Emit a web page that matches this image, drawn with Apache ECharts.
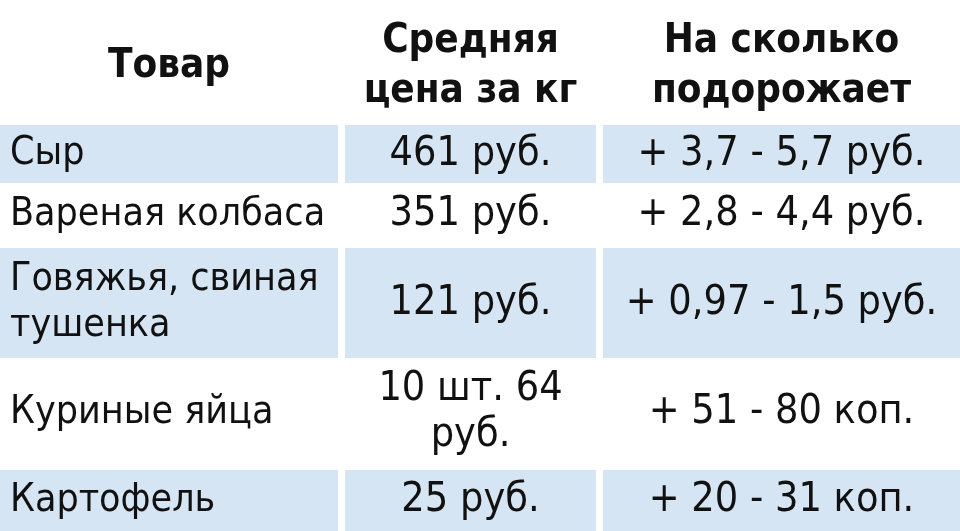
<!DOCTYPE html><html><head><meta charset="utf-8">
<script src="https://cdn.jsdelivr.net/npm/echarts@6/dist/echarts.min.js"></script>
<style>html,body{margin:0;padding:0;background:#fff}#c{width:960px;height:531px}</style></head><body><div id="c"></div>
<script>
const headers = ["Товар", "Средняя\nцена за кг", "На сколько\nподорожает"];
const products = ["Сыр", "Вареная колбаса", "Говяжья, свиная\nтушенка", "Куриные яйца", "Картофель"];
const prices = ["461 руб.", "351 руб.", "121 руб.", "10 шт. 64\nруб.", "25 руб."];
const increases = ["+ 3,7 - 5,7 руб.", "+ 2,8 - 4,4 руб.", "+ 0,97 - 1,5 руб.", "+ 51 - 80 коп.", "+ 20 - 31 коп."];

const colEdges = [[0,338],[345,596],[603,960]];
const rowEdges = [[0,122],[125,183],[183,246],[248,358],[358,467],[470,531]];
const font = "'Liberation Sans Narrow','DejaVu Sans Condensed','Roboto Condensed',sans-serif";

const cells = [];
headers.forEach((h,c)=>cells.push([c,0,h]));
products.forEach((p,r)=>{cells.push([0,r+1,p]);cells.push([1,r+1,prices[r]]);cells.push([2,r+1,increases[r]]);});

const chart = echarts.init(document.getElementById('c'));
chart.setOption({
  animation:false,
  grid:{left:0,right:0,top:0,bottom:0},
  xAxis:{type:'value',min:0,max:960,show:false},
  yAxis:{type:'value',min:0,max:531,inverse:true,show:false},
  series:[{
    type:'custom',
    data:cells.map(d=>[d[0],d[1]]),
    renderItem:function(params,api){
      const c=api.value(0), r=api.value(1);
      const txt=cells[params.dataIndex][2];
      const ce=colEdges[c], re=rowEdges[r];
      const p0=api.coord([ce[0],re[0]]), p1=api.coord([ce[1],re[1]]);
      const blue = r===1||r===3||r===5;
      const header = r===0;
      const cx = c===0 && !header ? p0[0]+10 : (p0[0]+p1[0])/2;
      return {type:'group',children:[
        {type:'rect',shape:{x:p0[0],y:p0[1],width:p1[0]-p0[0],height:p1[1]-p0[1]},
         style:{fill:blue?'#d5e5f3':'#ffffff'}},
        {type:'text',style:{text:txt,x:cx,y:(p0[1]+p1[1])/2+(header?6:0),
          align:(c===0&&!header)?'left':'center',verticalAlign:'middle',
          font:(header?'bold 40px ':(c===0?'39px ':'41px '))+font,fill:'#111',lineHeight:header?50:46}}
      ]};
    }
  }]
});
</script></body></html>
